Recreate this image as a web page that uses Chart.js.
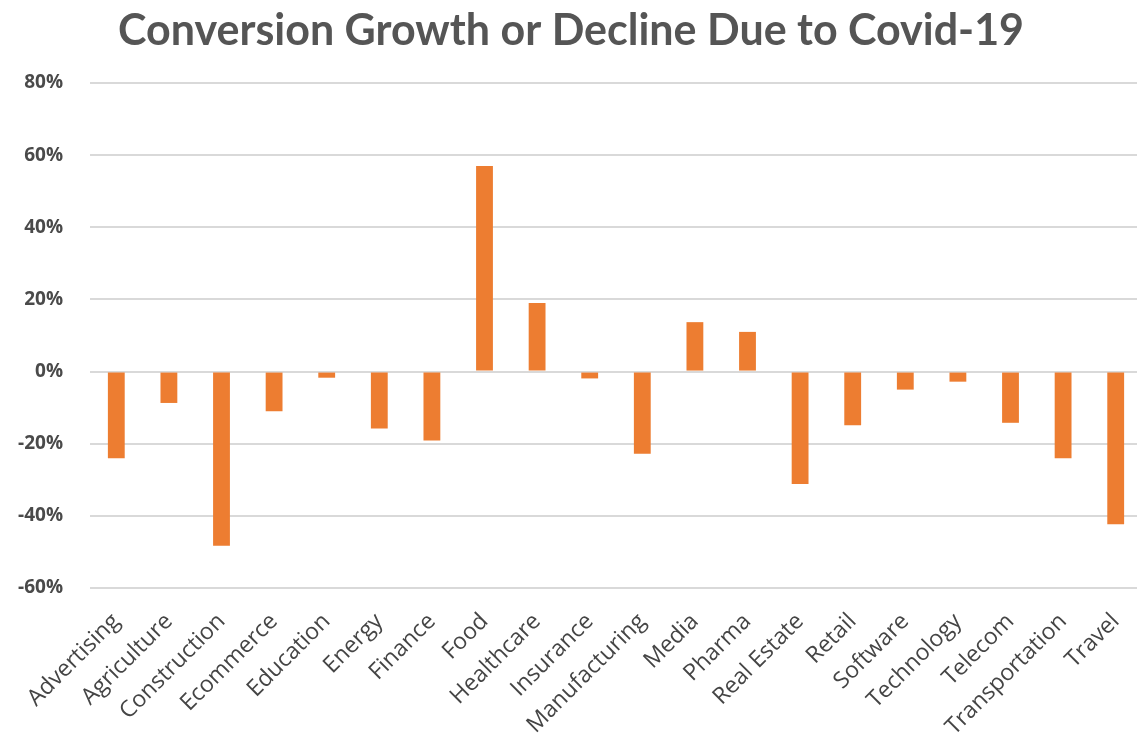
<!DOCTYPE html>
<html>
<head>
<meta charset="utf-8">
<script src="https://cdn.jsdelivr.net/npm/chart.js@4/dist/chart.umd.min.js"></script>
<style>
  html, body { margin: 0; padding: 0; background: #fff; overflow: hidden; }
  #wrap { position: relative; width: 1142px; height: 742px; }
</style>
</head>
<body>
<div id="wrap"><canvas id="c"></canvas></div>
<script>
const categories = ["Advertising", "Agriculture", "Construction", "Ecommerce", "Education", "Energy", "Finance", "Food", "Healthcare", "Insurance", "Manufacturing", "Media", "Pharma", "Real Estate", "Retail", "Software", "Technology", "Telecom", "Transportation", "Travel"];
const growthPct = [-24, -8.7, -48.3, -11, -1.7, -15.8, -19.1, 57, 19, -1.9, -22.8, 13.7, 11, -31.2, -14.9, -5, -2.8, -14.2, -24, -42.3];
const yTicks = [-60, -40, -20, 0, 20, 40, 60, 80];
const titleText = "Conversion Growth or Decline Due to Covid-19";

const fam = "'Open Sans', 'Liberation Sans', sans-serif";

new Chart(document.getElementById('c'), {
  type: 'bar',
  data: {
    labels: categories,
    datasets: [{
      data: growthPct,
      backgroundColor: '#ED7D31',
      borderWidth: 0,
      categoryPercentage: 1,
      barPercentage: 0.32
    }]
  },
  options: {
    responsive: true,
    maintainAspectRatio: false,
    animation: false,
    layout: { padding: 0 },
    plugins: {
      legend: { display: false },
      tooltip: { enabled: false },
      title: {
        display: true,
        text: titleText,
        color: '#555555',
        font: { family: "Lato, 'Open Sans', sans-serif", size: 43, weight: 'bold', lineHeight: 1.2 },
        padding: { top: 5, bottom: 26.4 }
      }
    },
    scales: {
      x: {
        grid: { display: false, drawTicks: false },
        border: { display: false },
        ticks: {
          color: '#454545',
          font: { family: fam, size: 23 },
          minRotation: 45,
          maxRotation: 45,
          autoSkip: false,
          padding: 20
        },
        afterFit(scale) {
          scale.height = 154;
          scale.paddingLeft = 0;
          scale.paddingRight = 0;
        }
      },
      y: {
        min: yTicks[0],
        max: yTicks[yTicks.length - 1],
        afterBuildTicks(scale) { scale.ticks = yTicks.map(v => ({ value: v })); },
        grid: { color: '#d9d9d9', lineWidth: 2, drawTicks: false },
        border: { display: false },
        ticks: {
          color: '#4a4a4a',
          font: { family: fam, size: 19, weight: 'bold' },
          padding: 27,
          callback: v => v + '%'
        },
        afterFit(scale) {
          scale.width = 90;
          scale.paddingTop = 0;
          scale.paddingBottom = 0;
        }
      }
    }
  }
});
</script>
</body>
</html>
